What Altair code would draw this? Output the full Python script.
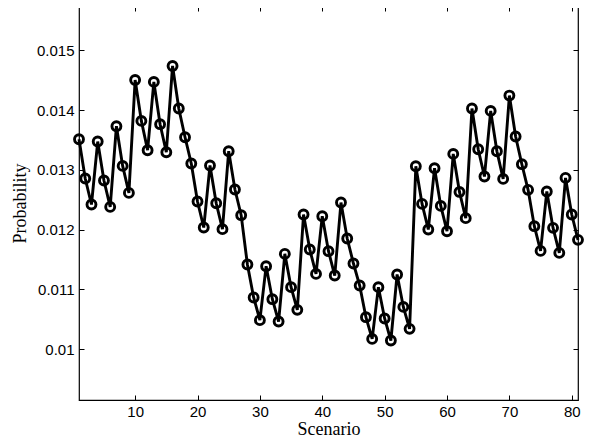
import altair as alt
import pandas as pd

scenario = list(range(1, 82))
probability = [
    0.013512, 0.012854, 0.012420, 0.013473, 0.012821, 0.012380, 0.013729, 0.013065, 0.012614, 0.014503,
    0.013818, 0.013328, 0.014470, 0.013763, 0.013294, 0.014737, 0.014025, 0.013545, 0.013105, 0.012470,
    0.012035, 0.013072, 0.012441, 0.012007, 0.013311, 0.012671, 0.012241, 0.011416, 0.010865, 0.010485,
    0.011388, 0.010836, 0.010463, 0.011594, 0.011037, 0.010658, 0.012253, 0.011667, 0.011259, 0.012224,
    0.011639, 0.011232, 0.012453, 0.011851, 0.011433, 0.011065, 0.010535, 0.010172, 0.011037, 0.010513,
    0.010145, 0.011249, 0.010707, 0.010340, 0.013060, 0.012430, 0.012002, 0.013027, 0.012396, 0.011973,
    0.013266, 0.012630, 0.012191, 0.014025, 0.013344, 0.012888, 0.013985, 0.013311, 0.012848, 0.014242,
    0.013557, 0.013094, 0.012665, 0.012057, 0.011644, 0.012637, 0.012029, 0.011611, 0.012865, 0.012253,
    0.011829,
]
x_ticks = [10, 20, 30, 40, 50, 60, 70, 80]
y_ticks = [0.010, 0.011, 0.012, 0.013, 0.014, 0.015]

df = pd.DataFrame({"Scenario": scenario, "Probability": probability})

xscale = alt.Scale(domain=[1, 81], nice=False, zero=False)
yscale = alt.Scale(domain=[0.00915, 0.01574], nice=False, zero=False)

common_axis = dict(
    domain=False, grid=False, tickColor="black", tickSize=5, offset=-5,
    labelColor="black", labelFont="Liberation Sans", labelFontSize=15,
    titleFont="Liberation Serif", titleFontSize=18, titleFontWeight="normal",
    titleColor="black",
)

base = alt.Chart(df)

line = base.mark_line(color="black", strokeWidth=2.9).encode(
    x=alt.X("Scenario:Q", scale=xscale,
            axis=alt.Axis(orient="bottom", values=x_ticks, labelPadding=4,
                          titlePadding=1, **common_axis)),
    y=alt.Y("Probability:Q", scale=yscale,
            axis=alt.Axis(orient="left", values=y_ticks, format=".3~f",
                          labelPadding=5, titlePadding=7, **common_axis)),
)

points = base.mark_point(shape="circle", filled=False, color="black",
                         strokeWidth=2.9, size=80, opacity=1).encode(
    x=alt.X("Scenario:Q", scale=xscale,
            axis=alt.Axis(orient="top", values=x_ticks, labels=False, title=None,
                          **common_axis)),
    y=alt.Y("Probability:Q", scale=yscale,
            axis=alt.Axis(orient="right", values=y_ticks, labels=False, title=None,
                          **common_axis)),
)

chart = (
    alt.layer(line, points)
    .resolve_axis(x="independent", y="independent")
    .properties(
        width=499, height=394,
        autosize=alt.AutoSizeParams(type="none"),
        padding={"left": 71, "top": -2, "right": 6, "bottom": 43},
        view=alt.ViewBackground(stroke="black", strokeWidth=1.2, fill="white"),
    )
    .configure(background="white")
)

chart.save("out.html", embed_options={"renderer": "svg", "actions": False})
